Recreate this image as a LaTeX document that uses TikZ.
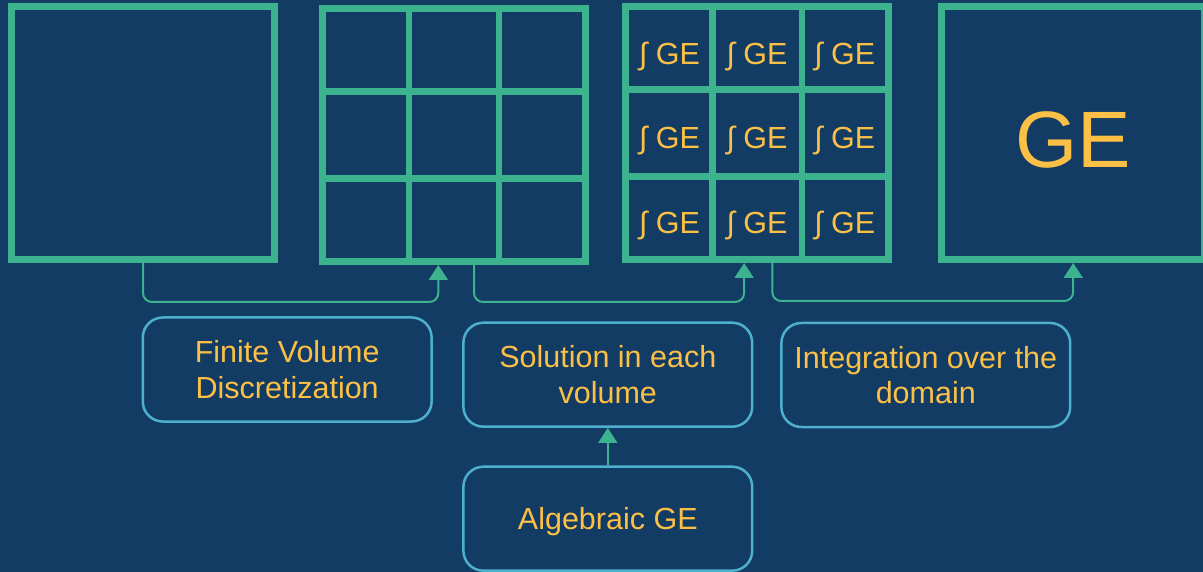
\documentclass[tikz,border=0pt]{standalone}
\usepackage{fontspec}
\setmainfont{Liberation Sans}
\usepackage{tikz}
\usepackage{xcolor}
\usetikzlibrary{arrows.meta, positioning, calc}

\definecolor{slatebg}{HTML}{123C64}
\definecolor{cellgreen}{HTML}{3CB28E}
\definecolor{gold}{HTML}{FBC045}
\definecolor{skyline}{HTML}{4EB0CE}

\begin{document}
\begin{tikzpicture}[x=1pt, y=-1pt,
    volume/.style={draw=cellgreen, line width=6.7pt, minimum width=262.8pt, minimum height=253.3pt, inner sep=0pt},
    gridline/.style={cellgreen, line width=6.7pt},
    cellge/.style={text=gold, font=\fontsize{30.5}{31}\selectfont, anchor=base, inner sep=0pt},
    bigge/.style={text=gold, font=\fontsize{80}{81}\selectfont, inner sep=0pt},
    stage/.style={draw=skyline, line width=2.5pt, rounded corners=20pt, minimum width=288.8pt, minimum height=104pt, align=center, text=gold, font=\fontsize{30.5}{35.7}\selectfont},
    link/.style={cellgreen, line width=2pt, rounded corners=9pt, -{Triangle[length=15pt, width=19pt]}}
]
    % Background and page size
    \fill[slatebg] (0,0) rectangle (1203,572);
    \useasboundingbox (0,0) rectangle (1203,572);

    % The four stages of the domain
    \node[volume] (blank) at (143,133) {};
    \node[volume] (grid) at (454,135) {};
    \node[volume] (integ) at (757.1,133) {};
    \node[volume] (whole) at (1073.2,133) {};

    % Split into control volumes
    \foreach \k in {1,2} {
        \draw[gridline] ($(grid.north west)!\k/3!(grid.north east)$) -- ($(grid.south west)!\k/3!(grid.south east)$);
        \draw[gridline] ($(grid.north west)!\k/3!(grid.south west)$) -- ($(grid.north east)!\k/3!(grid.south east)$);
        \draw[gridline] ($(integ.north west)!\k/3!(integ.north east)$) -- ($(integ.south west)!\k/3!(integ.south east)$);
        \draw[gridline] ($(integ.north west)!\k/3!(integ.south west)$) -- ($(integ.north east)!\k/3!(integ.south east)$);
    }

    % Integral in each volume
    \foreach \r in {0,1,2} {
        \foreach \c in {0,1,2} {
            \node[cellge] (ge-\r-\c) at ({625.7+(\c+0.5)*87.6},{6.5+(\r+0.5)*84.3+16}) {∫ GE};
        }
    }
    \node[bigge] (ge) at ([yshift=-7pt]whole.center) {GE};

    % Connectors between the stages
    \draw[link] (blank.south) -- ++(0,39) -| ([xshift=-15.7pt]grid.south);
    \draw[link] ([xshift=20pt]grid.south) -- ++(0,37) -| ([xshift=-13pt]integ.south);
    \draw[link] ([xshift=15.2pt]integ.south) -- ++(0,38) -| (whole.south);

    % Step labels
    \node[stage] (fvd) at (287.2,369.5) {Finite Volume\\Discretization};
    \node[stage] (sol) at (607.8,374.7) {Solution in each\\volume};
    \node[stage] (integr) at (925.8,375) {Integration over the\\domain};
    \node[stage, text depth=0pt, below=37.5pt of sol] (alg) {Algebraic GE};

    \draw[link] (alg.north) -- (sol.south);
\end{tikzpicture}
\end{document}
